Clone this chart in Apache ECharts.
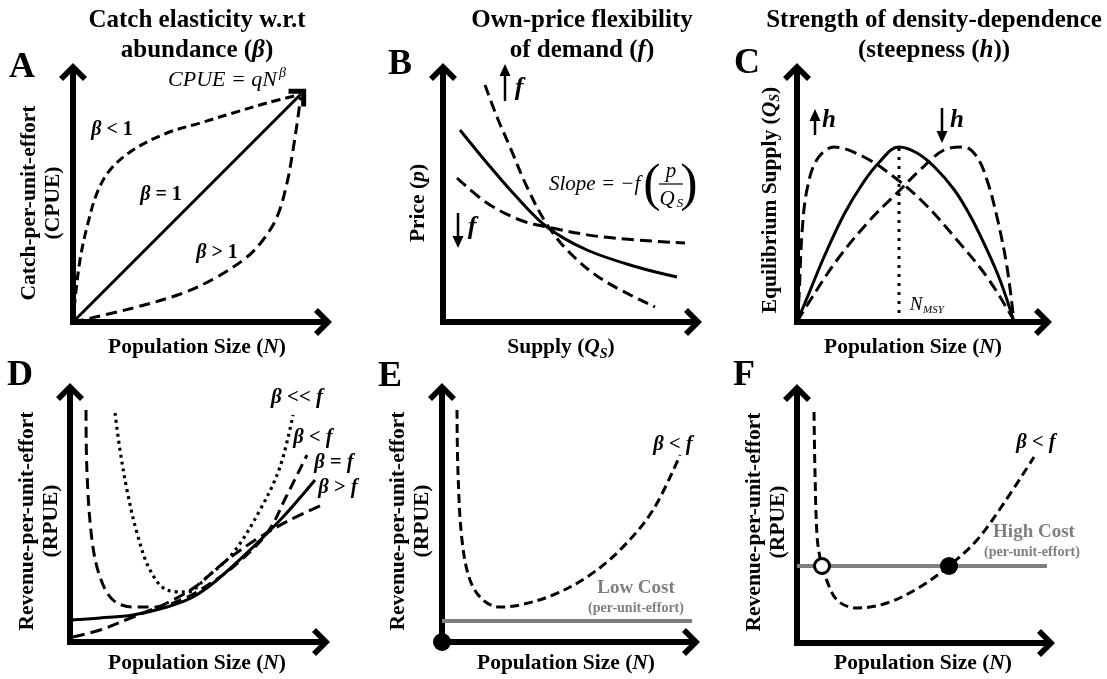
<!DOCTYPE html>
<html>
<head>
<meta charset="utf-8">
<script src="https://cdn.jsdelivr.net/npm/echarts@6/dist/echarts.min.js"></script>
<style>
  html, body { margin: 0; padding: 0; background: #fff; }
  #chart { width: 1107px; height: 679px; }
</style>
</head>
<body>
<div id="chart"></div>
<script>
// ---- Panel A: catch-per-unit-effort against population size ----
const cpueLinear   = [[0, 0], [91, 91]];
const cpueBetaLow  = [[0, 0], [0.8, 8.8], [2.8, 24.8], [5.6, 38], [9.6, 51.6], [14.8, 60.8], [24, 68.8], [37.6, 75.6], [50.8, 79.6], [64, 83.6], [77.6, 87.6], [91, 91]];
const cpueBetaHigh = [[0, 0], [24, 5.6], [44, 11.6], [57.6, 18], [69.6, 26], [76, 32.8], [81.6, 42], [85.6, 55.6], [88, 68.8], [90, 82], [91, 90]];

// ---- Panel B: inverse demand curves ----
const priceMid   = [[6.8, 76.8], [17.6, 63.6], [28, 51.6], [41.6, 38], [57.6, 28.8], [77.6, 22], [93.6, 18]];
const priceSteep = [[16.8, 94.8], [21.6, 82], [26.8, 70], [33.6, 54], [41.6, 39], [50.8, 27.6], [64, 16.8], [84.8, 6]];
const priceFlat  = [[5.6, 57.6], [17.6, 47.6], [30.8, 40.8], [41.6, 38], [64, 34], [96.8, 31.6]];

// ---- Panel C: equilibrium supply curves ----
const supplyMid   = [[0, 0], [5, 12], [10.8, 26], [18.8, 43], [26, 55], [33, 64], [40.8, 70], [48, 67.6], [55, 62], [62.8, 53], [69, 43], [75, 31], [81.2, 16.8], [86.8, 0]];
const supplyHighH = [[0, 0], [0.8, 10], [2, 35.6], [4, 53], [8, 65], [14.8, 70], [26.8, 66], [38.8, 58], [50.8, 47.6], [64, 32.8], [76, 18], [86, 2], [86.8, 0]];
const supplyLowH  = [[0, 0], [2.8, 4.8], [16, 24.8], [29.2, 40.8], [40, 51.6], [49.2, 60.8], [58.8, 68.8], [66.8, 70], [72, 66], [76, 56.8], [80, 42], [84, 22], [86.8, 0]];
const nMsyLine    = [[40.8, 0], [40.8, 70]];

// ---- Panel D: revenue-per-unit-effort for several beta / f ratios ----
const rpueEqual    = [[0, 8.8], [12, 9.6], [25.2, 10.8], [38.8, 14], [49.2, 18], [58.8, 24.8], [72, 36.8], [85.2, 50], [98, 64.8]];
const rpueGreater  = [[1.2, 2], [12, 4.8], [25.2, 10], [38.8, 15.6], [50, 22], [62.8, 32.8], [76, 42], [88, 48.8], [100.8, 54.8]];
const rpueLess     = [[6.4, 92.8], [6.8, 67.6], [8.8, 40.8], [12, 26], [17.2, 16.8], [25.2, 14], [34.8, 14], [45.2, 17.2], [52, 20.8], [65.2, 30], [78.8, 43.6], [86.8, 58.8], [94.8, 74.8]];
const rpueMuchLess = [[18, 91.6], [20, 76.8], [22.8, 60.8], [26.8, 43.6], [32, 28.8], [38.8, 20.8], [46.8, 20], [54.8, 26], [65.2, 35.6], [76, 52.8], [84, 70], [89.2, 90.8]];

// ---- Panel E: low cost ----
const rpueE     = [[6, 92.8], [6.4, 67.6], [8, 40.8], [11.2, 24.8], [16.4, 16.8], [23.2, 14], [31.2, 14.8], [44.4, 18.8], [58, 26], [71.2, 36.8], [84.4, 52.8], [95.2, 74.8]];
const lowCost   = [[0, 8.4], [100, 8.4]];
const eqE       = [[0, 0]];

// ---- Panel F: high cost ----
const rpueF      = [[6.8, 92.4], [7.2, 68], [8, 43], [9.2, 34], [10, 30.8], [11.2, 26.8], [16, 17.2], [24, 14], [36, 16], [49.2, 22.4], [60.8, 30.8], [72, 41.2], [82.8, 56], [94.8, 74.4]];
const highCost   = [[0, 30.8], [100, 30.8]];
const eqUnstable = [[10, 30.8]];
const eqStable   = [[60.8, 30.8]];

// ---- layout ----
const grids = [
  { left: 73,  top: 72,  width: 250, height: 250 },
  { left: 443, top: 72,  width: 250, height: 250 },
  { left: 797, top: 72,  width: 246, height: 250 },
  { left: 70,  top: 392, width: 251, height: 250 },
  { left: 442, top: 392, width: 249, height: 250 },
  { left: 797, top: 393, width: 249, height: 250 }
];
const PX_PER_UNIT = 2.5;
const SERIF = '"Liberation Serif", "Times New Roman", serif';
const CHEVRON = 'path://M14,0 L28,14 L24,18 L14,8 L4,18 L0,14 Z';
const GREY = '#7f7f7f';

function axis(i, max) {
  return {
    type: 'value', gridIndex: i, min: 0, max: max,
    axisLine: {
      show: true, onZero: false,
      symbol: ['none', CHEVRON], symbolSize: [28, 18],
      lineStyle: { color: '#000', width: 6, cap: 'square' }
    },
    axisTick: { show: false }, axisLabel: { show: false }, splitLine: { show: false }
  };
}

function curve(i, data, style, smooth) {
  return {
    type: 'line', xAxisIndex: i, yAxisIndex: i, data: data,
    symbol: 'none', smooth: smooth === undefined ? 0.35 : smooth,
    clip: false, silent: true, z: 3,
    lineStyle: Object.assign({ color: '#000', width: 3, cap: 'butt' }, style)
  };
}
function dots(i, data, itemStyle, size, extra) {
  return Object.assign({
    type: 'scatter', xAxisIndex: i, yAxisIndex: i, data: data,
    symbol: 'circle', symbolSize: size, clip: false, silent: true, z: 5,
    itemStyle: Object.assign({ opacity: 1 }, itemStyle)
  }, extra || {});
}

const DASH = [9, 5];
const LONGDASH = [12, 6];

const series = [
  // A
  curve(0, cpueLinear, {}, false),
  curve(0, cpueBetaLow, { type: DASH }),
  curve(0, cpueBetaHigh, { type: [11, 6] }),
  dots(0, [cpueLinear[1]], { color: '#000' }, [25, 16], { symbol: CHEVRON, symbolRotate: -45 }),
  // B
  curve(1, priceMid, {}),
  curve(1, priceSteep, { type: [11, 6] }),
  curve(1, priceFlat, { type: [12, 6] }),
  // C
  curve(2, supplyMid, {}, 0.4),
  curve(2, supplyHighH, { type: LONGDASH }),
  curve(2, supplyLowH, { type: LONGDASH }),
  curve(2, nMsyLine, { type: [3, 6], width: 3 }, false),
  // D
  curve(3, rpueEqual, {}),
  curve(3, rpueGreater, { type: LONGDASH }),
  curve(3, rpueLess, { type: [11, 6] }),
  curve(3, rpueMuchLess, { type: [3, 4], width: 3.2 }),
  // E
  Object.assign(curve(4, lowCost, { color: GREY, width: 4 }, false), { z: 2 }),
  curve(4, rpueE, { type: DASH }),
  dots(4, eqE, { color: '#000' }, 18),
  // F
  Object.assign(curve(5, highCost, { color: GREY, width: 4 }, false), { z: 2 }),
  curve(5, rpueF, { type: DASH }),
  dots(5, eqUnstable, { color: '#fff', borderColor: '#000', borderWidth: 3 }, 15),
  dots(5, eqStable, { color: '#000' }, 18)
];

// ---- text ----
function richSet(size, fill, lh) {
  const base = { fontFamily: SERIF, fontWeight: 'bold', fontSize: size, lineHeight: lh || Math.round(size * 1.3), fill: fill };
  return {
    r: base,
    i: Object.assign({}, base, { fontStyle: 'italic' }),
    ni: Object.assign({}, base, { fontStyle: 'italic', fontWeight: 'normal' }),
    s: { fontFamily: SERIF, fontWeight: 'bold', fontStyle: 'italic', fontSize: Math.round(size * 0.65), verticalAlign: 'bottom', fill: fill }
  };
}
function label(x, y, text, size, opts) {
  opts = opts || {};
  const fill = opts.fill || '#000';
  const align = opts.align || 'center';
  return {
    type: 'text', x: x, y: y, rotation: opts.rotation || 0, silent: true, z: 10,
    style: {
      text: text, rich: richSet(size, fill, opts.lh), fill: fill,
      font: (opts.font || ('bold ' + size + 'px ' + SERIF)),
      align: align, verticalAlign: 'middle',
      textAlign: align, textVerticalAlign: 'middle'
    }
  };
}
function arrow(x, y0, y1) {
  const dir = y1 < y0 ? -1 : 1;
  return [
    { type: 'line', silent: true, shape: { x1: x, y1: y0, x2: x, y2: y1 - dir * 9 }, style: { stroke: '#000', lineWidth: 2.5 } },
    { type: 'polygon', silent: true, shape: { points: [[x, y1], [x - 5.5, y1 - dir * 12], [x + 5.5, y1 - dir * 12]] }, style: { fill: '#000' } }
  ];
}

const TITLE = 25, AXT = 21.5, LETTER = 36;
const titles = [
  label(197, 21, '{r|Catch elasticity w.r.t}', TITLE),
  label(197, 51, '{r|abundance (}{i|β}{r|)}', TITLE),
  label(582, 21, '{r|Own-price flexibility}', TITLE),
  label(582, 51, '{r|of demand (}{i|f}{r|)}', TITLE),
  label(934, 21, '{r|Strength of density-dependence}', TITLE),
  label(934, 51, '{r|(steepness (}{i|h}{r|))}', TITLE)
];
const letters = [
  label(22, 68, '{r|A}', LETTER), label(400, 65, '{r|B}', LETTER), label(747, 64, '{r|C}', LETTER),
  label(20, 376, '{r|D}', LETTER), label(390, 377, '{r|E}', LETTER), label(744, 376, '{r|F}', LETTER)
];
const rot = { rotation: Math.PI / 2, lh: 24 };
const axisTitles = [
  label(197, 347, '{r|Population Size (}{i|N}{r|)}', AXT),
  label(561, 347, '{r|Supply (}{i|Q}{s|S}{r|)}', AXT),
  label(913, 347, '{r|Population Size (}{i|N}{r|)}', AXT),
  label(197, 663, '{r|Population Size (}{i|N}{r|)}', AXT),
  label(566, 663, '{r|Population Size (}{i|N}{r|)}', AXT),
  label(923, 663, '{r|Population Size (}{i|N}{r|)}', AXT),
  label(41, 203, '{r|Catch-per-unit-effort}\n{r|(CPUE)}', AXT, rot),
  label(418, 203, '{r|Price (}{i|p}{r|)}', AXT, rot),
  label(770, 200, '{r|Equilibrium Supply (}{i|Q}{s|S}{r|)}', AXT, rot),
  label(39, 521, '{r|Revenue-per-unit-effort}\n{r|(RPUE)}', AXT, rot),
  label(410, 521, '{r|Revenue-per-unit-effort}\n{r|(RPUE)}', AXT, rot),
  label(766, 522, '{r|Revenue-per-unit-effort}\n{r|(RPUE)}', AXT, rot)
];
const curveLabels = [
  label(112, 130, '{i|β}{r| < 1}', 20),
  label(161, 195, '{i|β}{r| = 1}', 20),
  label(217, 253, '{i|β}{r| > 1}', 20),
  label(297, 398, '{i|β}{r| << }{i|f}', 21),
  label(313, 438, '{i|β}{r| < }{i|f}', 20.5),
  label(334, 463, '{i|β}{r| = }{i|f}', 20.5),
  label(338, 488, '{i|β}{r| > }{i|f}', 20.5),
  label(673, 445, '{i|β}{r| < }{i|f}', 20.5),
  label(1036, 443, '{i|β}{r| < }{i|f}', 20.5),
  label(636, 588, '{r|Low Cost}', 19, { fill: GREY }),
  label(636, 608, '{r|(per-unit-effort)}', 14, { fill: GREY }),
  label(1034, 532, '{r|High Cost}', 19, { fill: GREY }),
  label(1032, 552, '{r|(per-unit-effort)}', 14, { fill: GREY })
];
const formulas = [
  label(277, 80, '{ni|CPUE = qN}', 22, { align: 'right' }),
  label(279, 73, '{ni|β}', 14, { align: 'left' }),
  label(549, 184, '{ni|Slope = −f}', 21, { align: 'left' }),
  label(652, 186, '(', 50, { font: 'normal 52px ' + SERIF }),
  label(689, 186, ')', 50, { font: 'normal 52px ' + SERIF }),
  label(671, 171, '{ni|p}', 21),
  { type: 'line', silent: true, shape: { x1: 659, y1: 184, x2: 683, y2: 184 }, style: { stroke: '#000', lineWidth: 1.2 } },
  label(667, 199, '{ni|Q}', 21),
  label(680, 204, '{ni|S}', 13),
  label(916, 305, '{ni|N}', 19),
  label(923, 310, '{ni|MSY}', 11, { align: 'left' })
];
const arrowMarks = [].concat(
  arrow(505, 101, 64), label(519, 88, '{i|f}', 26),
  arrow(458, 213, 248), label(472, 227, '{i|f}', 26),
  arrow(815, 135, 109), label(829, 121, '{i|h}', 25),
  arrow(942, 108, 143), label(957, 121, '{i|h}', 25)
);

const chart = echarts.init(document.getElementById('chart'), null, { renderer: 'canvas' });
chart.setOption({
  animation: false,
  backgroundColor: '#fff',
  grid: grids.map(g => Object.assign({ containLabel: false }, g)),
  xAxis: grids.map((g, i) => axis(i, g.width / PX_PER_UNIT)),
  yAxis: grids.map((g, i) => axis(i, g.height / PX_PER_UNIT)),
  series: series,
  graphic: { elements: [].concat(titles, letters, axisTitles, curveLabels, formulas, arrowMarks) }
});
</script>
</body>
</html>
